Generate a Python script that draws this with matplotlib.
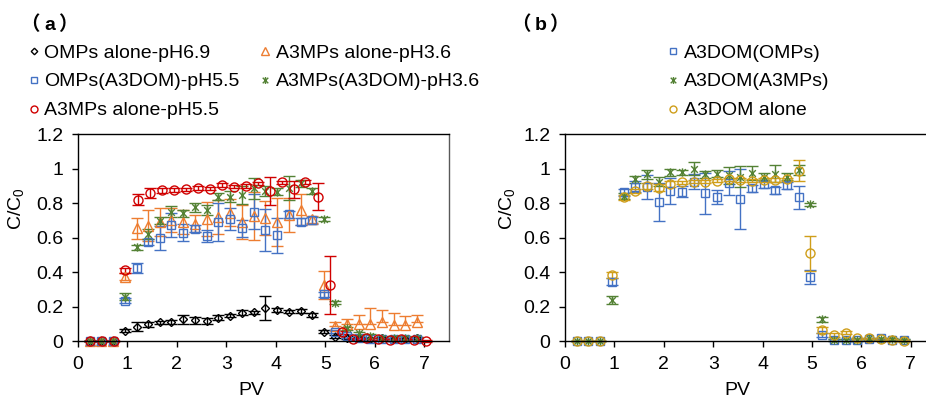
import matplotlib.pyplot as plt
from matplotlib.lines import Line2D
from matplotlib.path import Path
from matplotlib.ticker import FuncFormatter

plt.rcParams['font.family'] = ['Liberation Sans', 'DejaVu Sans']
plt.rcParams['mathtext.default'] = 'regular'

# ---- data (a) ----
pv_a = [0.24, 0.47, 0.71, 0.95, 1.19, 1.42, 1.66, 1.89, 2.13, 2.37, 2.60, 2.84, 3.08, 3.31, 3.55,
        3.79, 4.02, 4.26, 4.50, 4.73, 4.97, 5.20, 5.44, 5.68, 5.91, 6.15, 6.39, 6.62, 6.86]
pv_red = [0.24, 0.48, 0.72, 0.96, 1.21, 1.45, 1.69, 1.94, 2.18, 2.42, 2.66, 2.91, 3.15, 3.39, 3.63,
          3.88, 4.12, 4.36, 4.60, 4.85, 5.09, 5.33, 5.57, 5.82, 6.06, 6.30, 6.54, 6.79, 7.03]

omps_69 = [0, 0, 0, 0.06, 0.083, 0.097, 0.108, 0.112, 0.126, 0.12, 0.116, 0.135, 0.147, 0.164, 0.166,
           0.19, 0.18, 0.17, 0.175, 0.151, 0.054, 0.025, 0.02, 0.015, 0.01, 0.015, 0.01, 0.01, 0.015]
omps_69_err = [0, 0, 0, 0.01, 0.025, 0.015, 0.01, 0.012, 0.025, 0.02, 0.015, 0.015, 0.01, 0.015, 0.01,
               0.07, 0.01, 0.01, 0.012, 0.012, 0.01, 0.01, 0.01, 0.01, 0.01, 0.01, 0.01, 0.01, 0.01]

omps_dom = [0, 0, 0, 0.234, 0.425, 0.574, 0.597, 0.674, 0.628, 0.651, 0.609, 0.688, 0.707, 0.653, 0.75,
            0.643, 0.613, 0.734, 0.692, 0.70, 0.272, 0.054, 0.03, 0.02, 0.01, 0.01, 0.01, 0.01, 0.01]
omps_dom_err = [0, 0, 0, 0.015, 0.03, 0.015, 0.07, 0.07, 0.05, 0.02, 0.035, 0.11, 0.065, 0.05, 0.1,
                0.12, 0.1, 0.02, 0.02, 0.02, 0.015, 0.01, 0.01, 0.01, 0.01, 0.01, 0.01, 0.01, 0.01]

a3_36 = [0, 0, 0, 0.373, 0.653, 0.667, 0.69, 0.70, 0.69, 0.68, 0.707, 0.72, 0.744, 0.69, 0.726,
         0.713, 0.69, 0.73, 0.76, 0.705, 0.325, 0.087, 0.097, 0.10, 0.10, 0.11, 0.095, 0.095, 0.108]
a3_36_lo = [0, 0, 0, 0.02, 0.06, 0.09, 0.08, 0.07, 0.07, 0.05, 0.1, 0.1, 0.08, 0.1, 0.14,
            0.1, 0.14, 0.1, 0.09, 0.02, 0.08, 0, 0, 0, 0, 0, 0, 0, 0]
a3_36_hi = [0, 0, 0, 0.02, 0.06, 0.09, 0.08, 0.07, 0.07, 0.05, 0.1, 0.1, 0.08, 0.1, 0.14,
            0.1, 0.14, 0.1, 0.09, 0.02, 0.08, 0.025, 0.03, 0.05, 0.09, 0.07, 0.07, 0.05, 0.04]

a3_dom_36 = [0, 0, 0, 0.257, 0.543, 0.62, 0.697, 0.75, 0.74, 0.775, 0.76, 0.837, 0.837, 0.846, 0.885,
             0.87, 0.866, 0.885, 0.914, 0.87, 0.707, 0.222, 0.073, 0.045, 0.03, 0.02, 0.02, 0.02, 0.015]
a3_dom_36_err = [0, 0, 0, 0.02, 0.015, 0.03, 0.02, 0.03, 0.02, 0.025, 0.03, 0.02, 0.03, 0.05, 0.06,
                 0.03, 0.02, 0.07, 0.02, 0.015, 0.01, 0.01, 0.01, 0.01, 0.01, 0.01, 0.01, 0.01, 0.01]

a3_55 = [0, 0, 0, 0.41, 0.82, 0.86, 0.875, 0.875, 0.88, 0.887, 0.883, 0.905, 0.895, 0.90, 0.914,
         0.87, 0.92, 0.88, 0.923, 0.837, 0.325, 0.05, 0.01, 0.015, 0.01, 0.006, 0.01, 0.005, 0.002]
a3_55_err = [0, 0, 0, 0.015, 0.03, 0.03, 0.015, 0.01, 0.01, 0.01, 0.01, 0.01, 0.01, 0.01, 0.01,
             0.08, 0.01, 0.05, 0.01, 0.08, 0.17, 0.01, 0.005, 0.005, 0.005, 0.005, 0.005, 0.005, 0.005]

# ---- data (b) ----
pv_b = [0.24, 0.47, 0.71, 0.95, 1.19, 1.42, 1.66, 1.90, 2.13, 2.37, 2.61, 2.84, 3.08, 3.32, 3.55,
        3.79, 4.03, 4.26, 4.50, 4.74, 4.97, 5.21, 5.45, 5.68, 5.92, 6.16, 6.39, 6.63, 6.87]
dom_omps = [0, 0, 0, 0.344, 0.862, 0.895, 0.895, 0.808, 0.872, 0.866, 0.924, 0.856, 0.837, 0.918, 0.823,
            0.885, 0.908, 0.875, 0.904, 0.833, 0.373, 0.035, 0.005, 0.005, 0.005, 0.01, 0.015, 0.005, 0.005]
dom_omps_err = [0, 0, 0, 0.02, 0.02, 0.03, 0.07, 0.11, 0.075, 0.03, 0.045, 0.12, 0.04, 0.07, 0.175,
                0.02, 0.02, 0.02, 0.02, 0.065, 0.04, 0.01, 0.005, 0.005, 0.005, 0.005, 0.005, 0.005, 0.005]
dom_a3 = [0, 0, 0, 0.238, 0.841, 0.937, 0.966, 0.924, 0.978, 0.978, 1.0, 0.966, 0.97, 0.96, 0.952,
          0.976, 0.952, 0.97, 0.952, 0.99, 0.792, 0.126, 0.005, 0.005, 0.005, 0.015, 0.01, 0.01, 0.005]
dom_a3_err = [0, 0, 0, 0.025, 0.015, 0.02, 0.025, 0.025, 0.02, 0.015, 0.04, 0.02, 0.02, 0.05, 0.06,
              0.04, 0.02, 0.05, 0.02, 0.03, 0.01, 0.015, 0.005, 0.005, 0.005, 0.005, 0.005, 0.005, 0.005]
dom_alone = [0, 0, 0, 0.383, 0.833, 0.87, 0.899, 0.889, 0.91, 0.92, 0.924, 0.924, 0.93, 0.937, 0.933,
             0.93, 0.933, 0.933, 0.937, 0.988, 0.508, 0.064, 0.035, 0.048, 0.015, 0.015, 0.01, 0.006, 0.002]
dom_alone_err = [0, 0, 0, 0.015, 0.015, 0.01, 0.02, 0.02, 0.015, 0.01, 0.01, 0.01, 0.01, 0.01, 0.01,
                 0.01, 0.01, 0.01, 0.01, 0.06, 0.1, 0.015, 0.01, 0.01, 0.005, 0.005, 0.005, 0.005, 0.005]

c_black = '#000000'
c_blue = '#4472C4'
c_orange = '#ED7D31'
c_green = '#548235'
c_red = '#D00000'
c_gold = '#CF9E1A'

# excel-like star: an X with a vertical stroke
star = Path([(0, -1), (0, 1), (-0.8, -0.8), (0.8, 0.8), (-0.8, 0.8), (0.8, -0.8)],
            [Path.MOVETO, Path.LINETO, Path.MOVETO, Path.LINETO, Path.MOVETO, Path.LINETO])

fig = plt.figure(figsize=(9.26, 4.03), dpi=100)
ax1 = fig.add_axes([0.0842, 0.1538, 0.4006, 0.5136])
ax2 = fig.add_axes([0.6102, 0.1538, 0.3898, 0.5136])


def series(ax, x, y, err, marker, ms, color):
    ax.errorbar(x, y, yerr=err, fmt='', marker=marker, ms=ms, mfc='none', mec=color, mew=1.0,
                ecolor=color, elinewidth=1.0, capsize=4.5, capthick=1.0, linestyle='none',
                clip_on=False)


series(ax1, pv_a, omps_69, omps_69_err, 'D', 3.8, c_black)
series(ax1, pv_a, a3_36, [a3_36_lo, a3_36_hi], '^', 6.5, c_orange)
series(ax1, pv_a, omps_dom, omps_dom_err, 's', 5.4, c_blue)
series(ax1, pv_a, a3_dom_36, a3_dom_36_err, star, 6.0, c_green)
series(ax1, pv_red, a3_55, a3_55_err, 'o', 6.5, c_red)

series(ax2, pv_b, dom_omps, dom_omps_err, 's', 5.4, c_blue)
series(ax2, pv_b, dom_a3, dom_a3_err, star, 6.0, c_green)
series(ax2, pv_b, dom_alone, dom_alone_err, 'o', 6.5, c_gold)

for ax, xmax in ((ax1, 7.5), (ax2, 7.31)):
    ax.set_xlim(0, xmax)
    ax.set_ylim(0, 1.2)
    ax.set_xticks(range(8))
    ax.set_yticks([0, 0.2, 0.4, 0.6, 0.8, 1.0, 1.2])
    ax.yaxis.set_major_formatter(FuncFormatter(lambda v, p: f'{v:g}'))
    ax.tick_params(direction='out', length=4.5, width=1, labelsize=14, pad=6)
    for s in ax.spines.values():
        s.set_linewidth(1)
    ax.set_ylabel('C/C$_0$', fontsize=14)
    ax.text(3.5, -0.237, 'PV', fontsize=14, ha='center', va='center',
            transform=ax.get_xaxis_transform())
ax1.yaxis.set_label_coords(-0.14, 0.64)
ax2.yaxis.set_label_coords(-0.133, 0.64)
ax1.spines['right'].set_color('#595959')
ax2.spines['right'].set_visible(False)

# legends
def proxy(marker, ms, color, label):
    return Line2D([], [], marker=marker, ms=ms, mfc='none', mec=color, mew=1.0,
                  linestyle='none', label=label)

h1 = [proxy('D', 3.3, c_black, 'OMPs alone-pH6.9'),
      proxy('s', 4.3, c_blue, 'OMPs(A3DOM)-pH5.5'),
      proxy('o', 5.0, c_red, 'A3MPs alone-pH5.5'),
      proxy('^', 5.2, c_orange, 'A3MPs alone-pH3.6'),
      proxy(star, 5.0, c_green, 'A3MPs(A3DOM)-pH3.6')]
fig.legend(handles=h1, loc='upper left', bbox_to_anchor=(0.031, 0.891), ncol=2, frameon=False,
           fontsize=14, borderpad=0, borderaxespad=0, handlelength=0.5, handletextpad=0.3,
           labelspacing=0.58, columnspacing=1.08)

h2 = [proxy('s', 4.3, c_blue, 'A3DOM(OMPs)'),
      proxy(star, 5.0, c_green, 'A3DOM(A3MPs)'),
      proxy('o', 5.0, c_gold, 'A3DOM alone')]
fig.legend(handles=h2, loc='upper left', bbox_to_anchor=(0.722, 0.891), ncol=1, frameon=False,
           fontsize=14, borderpad=0, borderaxespad=0, handlelength=0.5, handletextpad=0.3,
           labelspacing=0.58)

# panel tags: full-width brackets around a bold letter
cjk = ['Noto Sans CJK SC', 'DejaVu Sans']
y_tag = 1 - 25 / 403
for x0, letter in ((20, 'a'), (511, 'b')):
    fig.text(x0 / 926, y_tag, '（', fontsize=14, fontweight='bold', va='center', family=cjk)
    fig.text((x0 + 30) / 926, y_tag, letter, fontsize=14, fontweight='bold', ha='center',
             va='center')
    fig.text((x0 + 38) / 926, y_tag, '）', fontsize=14, fontweight='bold', va='center', family=cjk)

fig.savefig('out.png', dpi=100)
